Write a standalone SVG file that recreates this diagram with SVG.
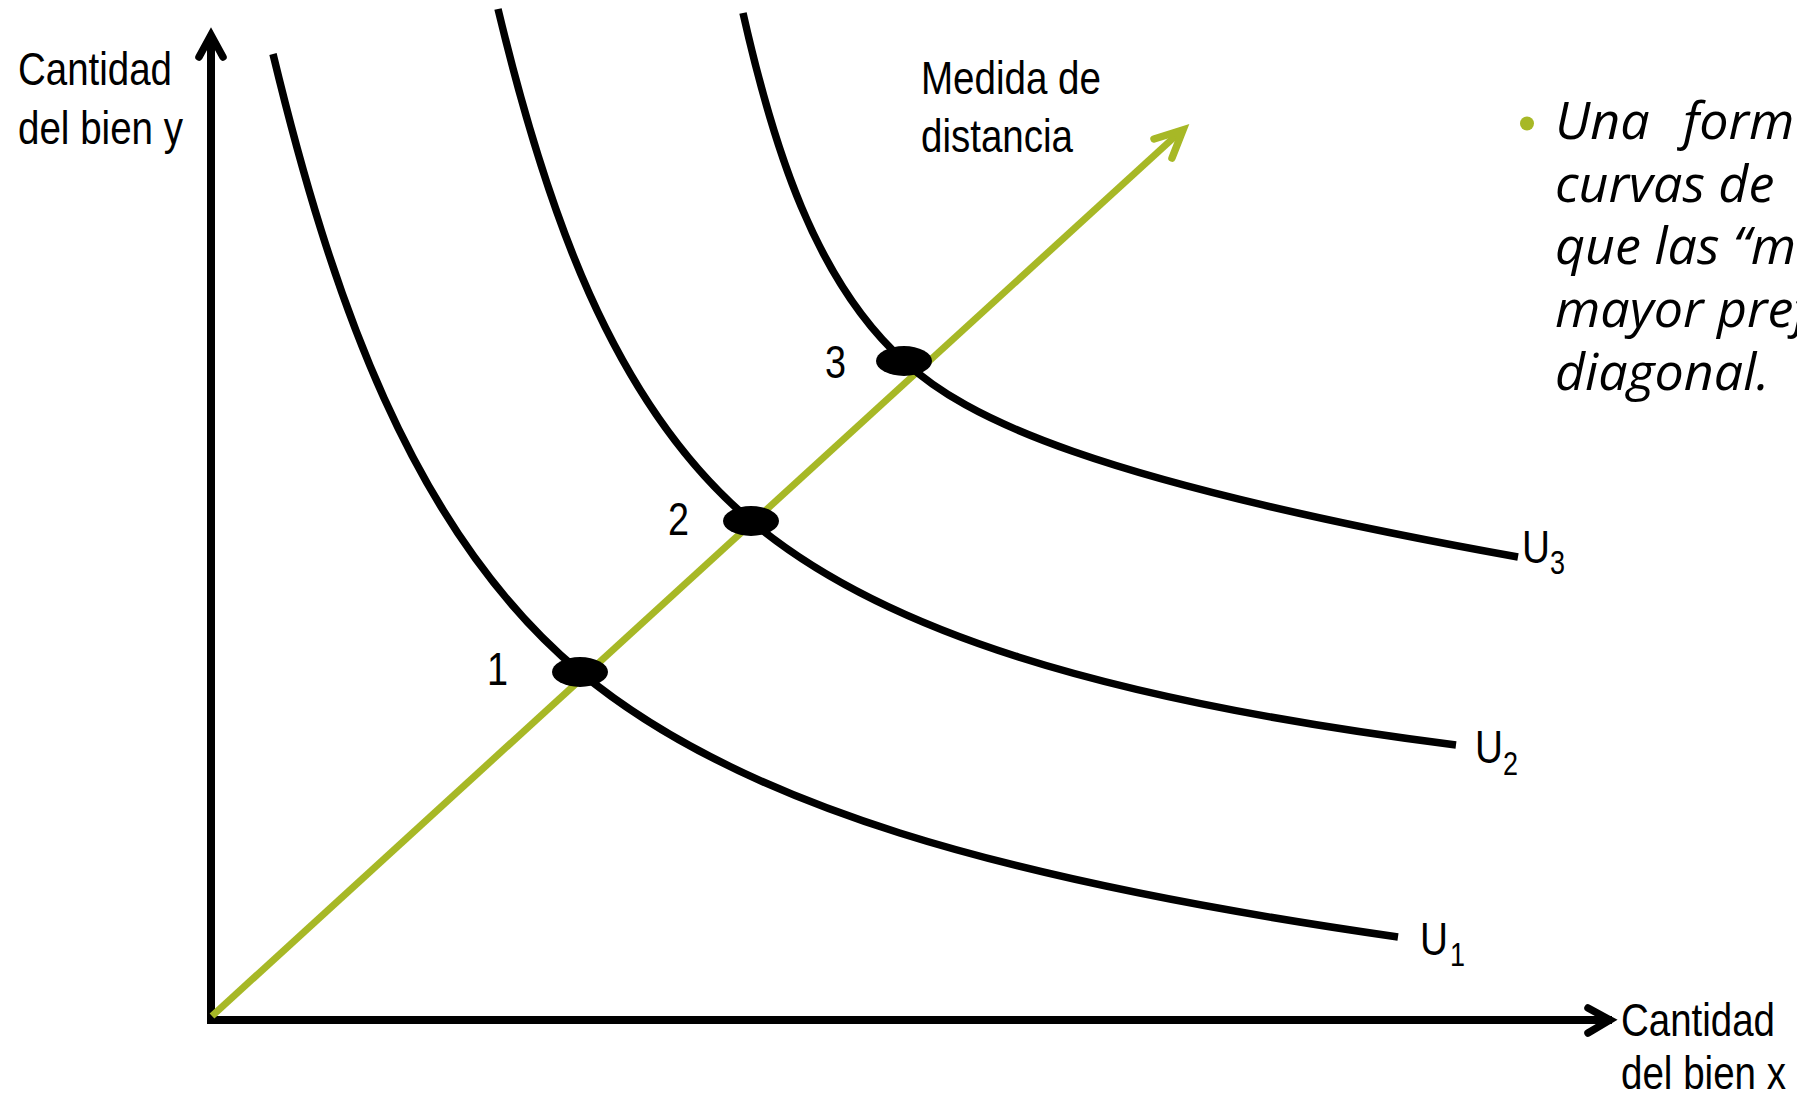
<svg xmlns="http://www.w3.org/2000/svg" width="1797" height="1098" viewBox="0 0 1797 1098">
  <style>
    .ax { fill: none; stroke: #000; stroke-width: 8; stroke-linecap: butt; }
    .head { fill: none; stroke: #000; stroke-width: 7.5; stroke-linecap: round; stroke-linejoin: miter; stroke-miterlimit: 10; }
    .curve { fill: none; stroke: #000; stroke-width: 7.5; stroke-linecap: butt; }
    .green { fill: none; stroke: #A7B826; stroke-width: 7; stroke-linecap: butt; }
    .ghead { fill: none; stroke: #A7B826; stroke-width: 7.5; stroke-linecap: round; stroke-linejoin: miter; stroke-miterlimit: 10; }
    .lbl { font-family: "Liberation Sans Narrow", "Liberation Sans", Arial, sans-serif; font-size: 47px; fill: #000; }
    .sub { font-family: "Liberation Sans Narrow", "Liberation Sans", Arial, sans-serif; font-size: 33px; fill: #000; }
    .dot { fill: #000; }
    .bul { font-family: "Open Sans", "Noto Sans", sans-serif; font-style: italic; font-size: 52px; fill: #000; }
  </style>
  <rect width="1797" height="1098" fill="#fff"/>

  <g id="connectors">
    <g id="axis-y">
      <line class="ax" x1="211" y1="1024" x2="211" y2="36"/>
      <polyline class="head" points="199,57 211,35 223,57"/>
    </g>
    <g id="axis-x">
      <line class="ax" x1="207" y1="1020" x2="1612" y2="1020"/>
      <polyline class="head" points="1588,1008 1610,1020 1588,1033"/>
    </g>
    <g id="distance-arrow">
      <line class="green" x1="212" y1="1016" x2="1181" y2="131"/>
      <polyline class="ghead" points="1154,139 1183,130 1172,158"/>
    </g>
  </g>

  <g id="curve-u1">
    <path class="curve" d="M273,54 C330,290 410,530 580,672 C740,805 1000,880 1398,937"/>
  </g>
  <g id="curve-u2">
    <path class="curve" d="M498,9 C545,205 611,403 751,521 C880,630 1100,700 1456,745"/>
  </g>
  <g id="curve-u3">
    <path class="curve" d="M743,13 C773,146 815,281 904,361 C965,418 1090,480 1518,557"/>
  </g>

  <g id="point-1">
    <ellipse class="dot" cx="580" cy="672" rx="28" ry="15"/>
    <text class="lbl" x="487" y="685" textLength="21" lengthAdjust="spacingAndGlyphs">1</text>
  </g>
  <g id="point-2">
    <ellipse class="dot" cx="751" cy="521" rx="28" ry="15"/>
    <text class="lbl" x="668" y="535" textLength="21" lengthAdjust="spacingAndGlyphs">2</text>
  </g>
  <g id="point-3">
    <ellipse class="dot" cx="904" cy="361" rx="28" ry="15"/>
    <text class="lbl" x="825" y="378" textLength="21" lengthAdjust="spacingAndGlyphs">3</text>
  </g>

  <g id="label-u1">
    <text class="lbl" x="1420" y="955" textLength="28" lengthAdjust="spacingAndGlyphs">U</text>
    <text class="sub" x="1450" y="966" textLength="15" lengthAdjust="spacingAndGlyphs">1</text>
  </g>
  <g id="label-u2">
    <text class="lbl" x="1475" y="763" textLength="28" lengthAdjust="spacingAndGlyphs">U</text>
    <text class="sub" x="1503" y="775" textLength="15" lengthAdjust="spacingAndGlyphs">2</text>
  </g>
  <g id="label-u3">
    <text class="lbl" x="1522" y="563" textLength="28" lengthAdjust="spacingAndGlyphs">U</text>
    <text class="sub" x="1550" y="574" textLength="15" lengthAdjust="spacingAndGlyphs">3</text>
  </g>

  <g id="label-y">
    <text class="lbl" x="18" y="85" textLength="154" lengthAdjust="spacingAndGlyphs">Cantidad</text>
    <text class="lbl" x="18" y="144" textLength="165" lengthAdjust="spacingAndGlyphs">del bien y</text>
  </g>
  <g id="label-x">
    <text class="lbl" x="1621" y="1036" textLength="154" lengthAdjust="spacingAndGlyphs">Cantidad</text>
    <text class="lbl" x="1621" y="1089" textLength="165" lengthAdjust="spacingAndGlyphs">del bien x</text>
  </g>
  <g id="label-distance">
    <text class="lbl" x="921" y="94" textLength="180" lengthAdjust="spacingAndGlyphs">Medida de</text>
    <text class="lbl" x="921" y="152" textLength="152" lengthAdjust="spacingAndGlyphs">distancia</text>
  </g>

  <g id="bullet-text">
    <circle cx="1527" cy="123.5" r="7" fill="#A7B826"/>
    <text class="bul" x="1555" y="139">Una<tspan x="1683">form</tspan></text>
    <text class="bul" x="1555" y="201.7">curvas de</text>
    <text class="bul" x="1555" y="264.4">que las “m</text>
    <text class="bul" x="1555" y="327.1">mayor pref</text>
    <text class="bul" x="1555" y="389.8">diagonal.</text>
  </g>
</svg>
